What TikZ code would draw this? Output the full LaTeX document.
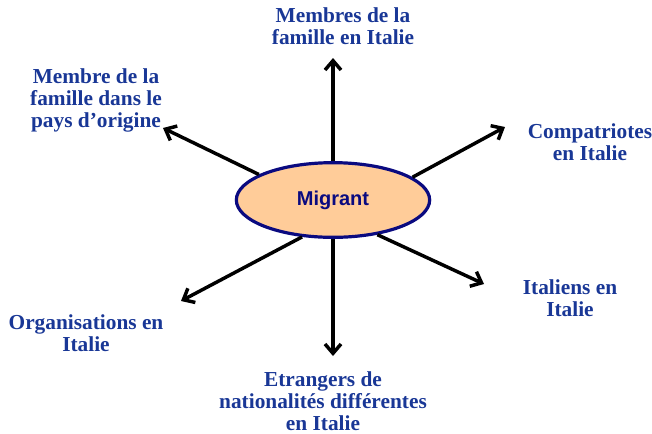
\documentclass[tikz,border=0pt]{standalone}
\usepackage{fontspec}
\setmainfont{Liberation Serif}
\setsansfont{Liberation Sans}
\usetikzlibrary{arrows.meta,shapes.geometric}

\definecolor{navy}{RGB}{10,10,128}
\definecolor{peach}{RGB}{255,204,153}
\definecolor{lblue}{RGB}{25,55,150}

\begin{document}
\begin{tikzpicture}[x=0.75pt,y=-0.75pt,
  every path/.style={>={Straight Barb[length=7pt,width=12pt]}},
  lbl/.style={align=center,text=lblue,font=\fontsize{16pt}{16.5pt}\selectfont\bfseries,inner sep=0pt},
  fleche/.style={->,line width=2.6pt}]
\useasboundingbox (0,0) rectangle (652,433);
\node[ellipse,draw=navy,line width=2.4pt,fill=peach,minimum width=145pt,minimum height=56pt,inner sep=0pt,
      font=\sffamily\bfseries\fontsize{15pt}{18pt}\selectfont,text=navy] (m) at (333,200) {Migrant};
% labels
\node[lbl] (haut)   at (343,26)  {Membres de la\\famille en Italie};
\node[lbl] (hg)     at (96,100)  {Membre de la\\famille dans le\\pays d'origine};
\node[lbl] (hd)     at (590,142) {Compatriotes\\en Italie};
\node[lbl] (bd)     at (570,298) {Italiens en\\Italie};
\node[lbl] (bg)     at (86,333)  {Organisations en\\Italie};
\node[lbl] (bas)    at (323,401) {Etrangers de\\nationalités différentes\\en Italie};
% arrow ends
\coordinate (ehaut) at (333,58);
\coordinate (ehg)   at (163,128);
\coordinate (ehd)   at (505,127);
\coordinate (ebd)   at (484,284);
\coordinate (ebg)   at (181,301);
\coordinate (ebas)  at (333,356);
\draw[fleche] (m.90)  -- (ehaut);
\draw[fleche] (m.161) -- (ehg);
\draw[fleche] (m.16)  -- (ehd);
\draw[fleche] (m.322) -- (ebd);
\draw[fleche] (m.230) -- (ebg);
\draw[fleche] (m.270) -- (ebas);
\end{tikzpicture}
\end{document}
